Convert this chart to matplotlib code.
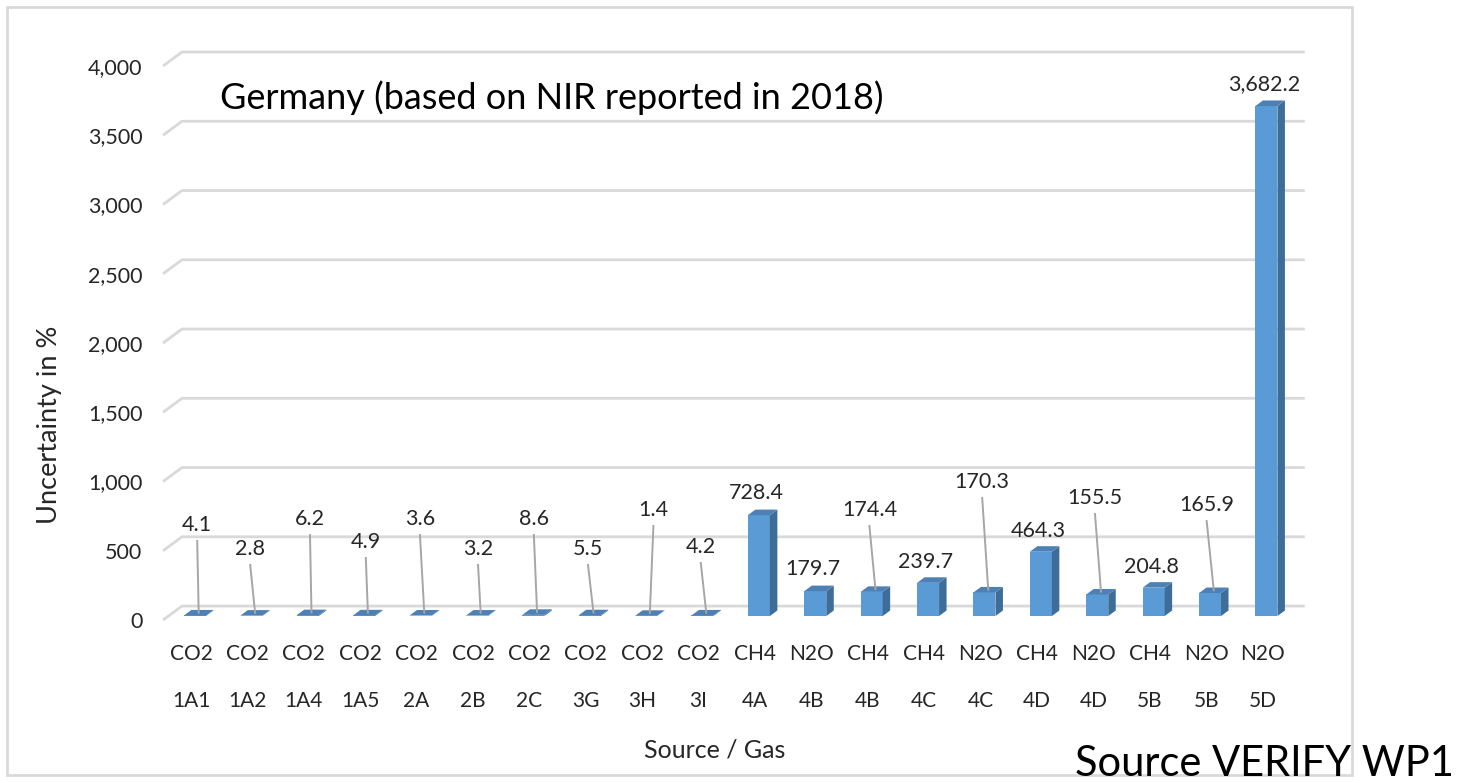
import numpy as np
import matplotlib.pyplot as plt
from matplotlib.collections import PolyCollection
from matplotlib.patches import Rectangle

plt.rcParams['font.family'] = ['Lato', 'DejaVu Sans']

gases = ["CO2"] * 10 + ["CH4", "N2O", "CH4", "CH4", "N2O", "CH4", "N2O", "CH4", "N2O", "N2O"]
sources = ["1A1", "1A2", "1A4", "1A5", "2A", "2B", "2C", "3G", "3H", "3I",
           "4A", "4B", "4B", "4C", "4C", "4D", "4D", "5B", "5B", "5D"]
uncertainty = [4.1, 2.8, 6.2, 4.9, 3.6, 3.2, 8.6, 5.5, 1.4, 4.2,
               728.4, 179.7, 174.4, 239.7, 170.3, 464.3, 155.5, 204.8, 165.9, 3682.2]
yticks = [0, 500, 1000, 1500, 2000, 2500, 3000, 3500, 4000]

# where Excel put the data labels (value units, text centre) and their x shift
label_y = [657, 484, 700, 534, 700, 484, 700, 484, 765, 498,
           888, 339, 765, 390, 968, 614, 852, 354, 801, 3841]
label_dx = [0.11, 0.05, 0.11, 0.10, 0.06, 0.09, 0.08, 0.04, 0.20, 0.04,
            0.03, 0.03, 0.03, 0.03, 0.03, 0.03, 0.03, 0.03, 0.01, 0.03]

# fake 3d look, in data units (1 category ~ 56 px, 1 px ~ 7.2 units)
bar_w = 0.39
bar_shift = 0.07
depth_x = 0.133
depth_y = 40
front_off = -29   # front edge of floor / gridlines
back_off = 72     # back wall gridlines

front_c = '#5B9BD5'
side_c = '#3E6D99'
top_c = '#4D80B5'
grid_c = '#D9D9D9'
text_c = '#262626'

W, H = 1459, 782
fig = plt.figure(figsize=(W / 100, H / 100), dpi=100)
ax = fig.add_axes([150 / W, (H - 640) / H, (1320 - 150) / W, (640 - 30) / H])
ax.set_xlim(-0.727, 20.02)
ax.set_ylim(-173, 4231)

x = np.arange(len(uncertainty))
vals = np.array(uncertainty)

# gridlines: slanted stub at the left then the back wall line
for v in yticks:
    ax.plot([-0.496, -0.16, 19.75], [v + front_off, v + back_off, v + back_off],
            color=grid_c, lw=2, zorder=1, solid_capstyle='butt')

# bars
xl = x + bar_shift - bar_w / 2
xr = x + bar_shift + bar_w / 2
ax.bar(x + bar_shift, vals, width=bar_w, color=front_c, zorder=3, linewidth=0)
sides = [[(r, 0), (r + depth_x, depth_y), (r + depth_x, h + depth_y), (r, h)]
         for r, h in zip(xr, vals)]
tops = [[(l, h), (r, h), (r + depth_x, h + depth_y), (l + depth_x, h + depth_y)]
        for l, r, h in zip(xl, xr, vals)]
ax.add_collection(PolyCollection(sides, facecolors=side_c, edgecolors='none', zorder=3))
ax.add_collection(PolyCollection(tops, facecolors=top_c, edgecolors='none', zorder=3))

# data labels + leader lines
for i, (v, ly, dx) in enumerate(zip(vals, label_y, label_dx)):
    tx = i + dx
    ax.text(tx, ly, f"{v:,.1f}", ha='center', va='center', fontsize=15.5,
            color=text_c, zorder=5)
    if ly - v > 290:
        ax.plot([tx, i + bar_shift + depth_x / 2], [ly - 115, v + depth_y / 2],
                color='#A6A6A6', lw=1.4, zorder=4)

ax.set_yticks([v + front_off for v in yticks], labels=[f"{v:,}" for v in yticks])
ax.set_xticks(x, labels=[f"{g}\n{s}" for g, s in zip(gases, sources)])
ax.tick_params(axis='y', length=0, pad=5.5, labelsize=15.5, labelcolor=text_c)
ax.tick_params(axis='x', length=0, pad=3, labelsize=15, labelcolor=text_c)
for t in ax.get_xticklabels():
    t.set_linespacing(2.7)
for s in ax.spines.values():
    s.set_visible(False)
ax.patch.set_alpha(0)

fig.text(220 / W, 1 - 98 / H, "Germany (based on NIR reported in 2018)",
         fontsize=26, ha='left', va='center', color='black')
fig.text(50 / W, 1 - 425 / H, "Uncertainty in %", rotation=90, fontsize=19.5,
         ha='center', va='center', color=text_c)
fig.text(715 / W, 1 - 750 / H, "Source / Gas", fontsize=18,
         ha='center', va='center', color=text_c)

fig.add_artist(Rectangle((7 / W, 1 - 775 / H), 1345 / W, 768 / H,
                         transform=fig.transFigure, fill=False,
                         edgecolor=grid_c, lw=2))
fig.text(1075 / W, 1 - 776 / H, "Source VERIFY WP1", fontsize=30,
         ha='left', va='baseline', color='black')

fig.savefig('out.png', dpi=100)
